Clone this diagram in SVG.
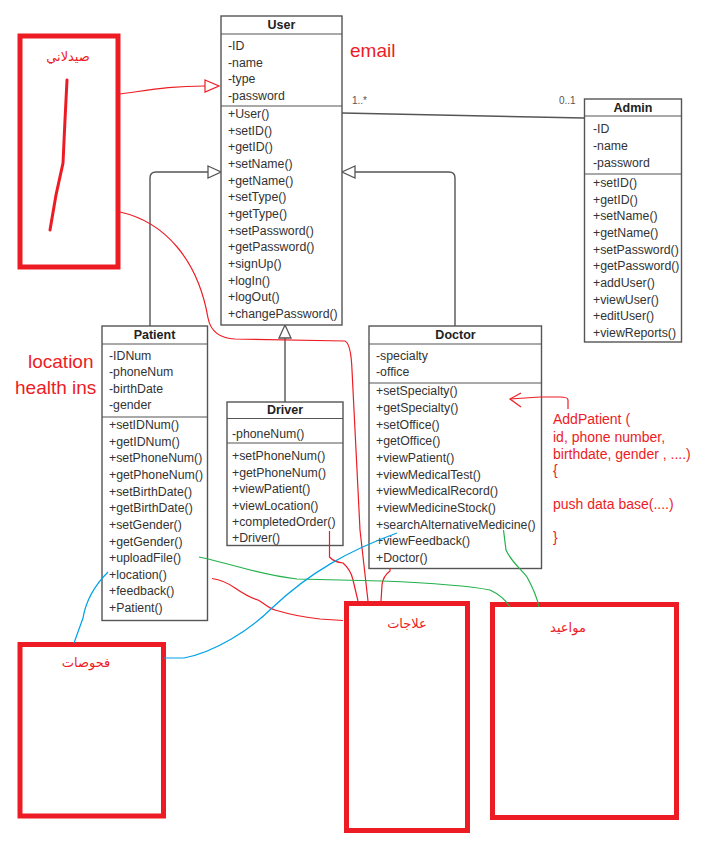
<svg xmlns="http://www.w3.org/2000/svg" width="717" height="841" viewBox="0 0 717 841">
<defs>
<style>
.box{fill:#fff;stroke:#555;stroke-width:1.4}
.sep{stroke:#555;stroke-width:1.2}
.t{font-family:"Liberation Sans",Arial,sans-serif;font-size:12.3px;fill:#333}
.h{font-family:"Liberation Sans",Arial,sans-serif;font-size:12.5px;font-weight:bold;fill:#222;text-anchor:middle}
.m{font-family:"Liberation Sans",Arial,sans-serif;font-size:10px;fill:#555}
.rt{font-family:"Liberation Sans",Arial,sans-serif;font-size:19px;fill:#ED1C24}
.code{font-family:"Liberation Sans",Arial,sans-serif;font-size:14px;fill:#ED1C24}
.ar{font-family:"DejaVu Sans","Noto Sans",sans-serif;font-size:13px;fill:#ED1C24;text-anchor:middle}
.rbox{fill:none;stroke:#ED1C24;stroke-width:5}
.gen{fill:none;stroke:#555;stroke-width:1.4}
.tri{fill:#fff;stroke:#555;stroke-width:1.3}
.red{fill:none;stroke:#ED1C24;stroke-width:1.2}
.grn{fill:none;stroke:#22B14C;stroke-width:1.2}
.blu{fill:none;stroke:#00A2E8;stroke-width:1.2}
</style>
</defs>
<rect width="717" height="841" fill="#fff"/>

<g id="connectors">
<path class="gen" d="M150,326 L150,178 Q150,172 156,172 L208,172"/>
<polygon class="tri" points="208,166 221,172 208,178"/>
<path class="gen" d="M455,326 L455,178 Q455,172 449,172 L355,172"/>
<polygon class="tri" points="355,166 342,172 355,178"/>
<path class="gen" d="M285,402 L285,338"/>
<polygon class="tri" points="279,338 285,325 291,338"/>
<path class="gen" d="M342,113 L584,118"/>
<text class="m" x="352" y="104">1..*</text>
<text class="m" x="559" y="104">0..1</text>
</g>

<g id="User">
<rect class="box" x="221" y="16" width="121" height="309"/>
<line class="sep" x1="221" y1="34" x2="342" y2="34"/>
<line class="sep" x1="221" y1="106" x2="342" y2="106"/>
<text class="h" x="281.5" y="28.5">User</text>
<text class="t" x="228" y="50">-ID</text>
<text class="t" x="228" y="66.7">-name</text>
<text class="t" x="228" y="83.3">-type</text>
<text class="t" x="228" y="100">-password</text>
<text class="t" x="228" y="118">+User()</text>
<text class="t" x="228" y="134.7">+setID()</text>
<text class="t" x="228" y="151.3">+getID()</text>
<text class="t" x="228" y="168">+setName()</text>
<text class="t" x="228" y="184.6">+getName()</text>
<text class="t" x="228" y="201.3">+setType()</text>
<text class="t" x="228" y="217.9">+getType()</text>
<text class="t" x="228" y="234.6">+setPassword()</text>
<text class="t" x="228" y="251.2">+getPassword()</text>
<text class="t" x="228" y="267.9">+signUp()</text>
<text class="t" x="228" y="284.5">+logIn()</text>
<text class="t" x="228" y="301.2">+logOut()</text>
<text class="t" x="228" y="317.8">+changePassword()</text>
</g>

<g id="Admin">
<rect class="box" x="584.5" y="99" width="97" height="243"/>
<line class="sep" x1="584.5" y1="116" x2="681.5" y2="116"/>
<line class="sep" x1="584.5" y1="174" x2="681.5" y2="174"/>
<text class="h" x="633" y="112">Admin</text>
<text class="t" x="593" y="133">-ID</text>
<text class="t" x="593" y="150">-name</text>
<text class="t" x="593" y="167">-password</text>
<text class="t" x="593" y="187">+setID()</text>
<text class="t" x="593" y="203.6">+getID()</text>
<text class="t" x="593" y="220.3">+setName()</text>
<text class="t" x="593" y="237">+getName()</text>
<text class="t" x="593" y="253.6">+setPassword()</text>
<text class="t" x="593" y="270.3">+getPassword()</text>
<text class="t" x="593" y="287">+addUser()</text>
<text class="t" x="593" y="303.6">+viewUser()</text>
<text class="t" x="593" y="320.3">+editUser()</text>
<text class="t" x="593" y="337">+viewReports()</text>
</g>

<g id="Patient">
<rect class="box" x="102" y="326" width="105.5" height="294.5"/>
<line class="sep" x1="102" y1="344" x2="207.5" y2="344"/>
<line class="sep" x1="102" y1="417" x2="207.5" y2="417"/>
<text class="h" x="154.5" y="338.5">Patient</text>
<text class="t" x="109" y="359.5">-IDNum</text>
<text class="t" x="109" y="376">-phoneNum</text>
<text class="t" x="109" y="392.7">-birthDate</text>
<text class="t" x="109" y="409.3">-gender</text>
<text class="t" x="109" y="429">+setIDNum()</text>
<text class="t" x="109" y="445.6">+getIDNum()</text>
<text class="t" x="109" y="462.3">+setPhoneNum()</text>
<text class="t" x="109" y="478.9">+getPhoneNum()</text>
<text class="t" x="109" y="495.6">+setBirthDate()</text>
<text class="t" x="109" y="512.2">+getBirthDate()</text>
<text class="t" x="109" y="528.8">+setGender()</text>
<text class="t" x="109" y="545.5">+getGender()</text>
<text class="t" x="109" y="562.1">+uploadFile()</text>
<text class="t" x="109" y="578.8">+location()</text>
<text class="t" x="109" y="595.4">+feedback()</text>
<text class="t" x="109" y="612">+Patient()</text>
</g>

<g id="Doctor">
<rect class="box" x="369" y="326" width="172.5" height="242.5"/>
<line class="sep" x1="369" y1="344" x2="541.5" y2="344"/>
<line class="sep" x1="369" y1="383" x2="541.5" y2="383"/>
<text class="h" x="455.5" y="338.5">Doctor</text>
<text class="t" x="376" y="359.5">-specialty</text>
<text class="t" x="376" y="376">-office</text>
<text class="t" x="376" y="395.3">+setSpecialty()</text>
<text class="t" x="376" y="412">+getSpecialty()</text>
<text class="t" x="376" y="428.7">+setOffice()</text>
<text class="t" x="376" y="445.3">+getOffice()</text>
<text class="t" x="376" y="462">+viewPatient()</text>
<text class="t" x="376" y="478.7">+viewMedicalTest()</text>
<text class="t" x="376" y="495.3">+viewMedicalRecord()</text>
<text class="t" x="376" y="512">+viewMedicineStock()</text>
<text class="t" x="376" y="528.7">+searchAlternativeMedicine()</text>
<text class="t" x="376" y="545.3">+viewFeedback()</text>
<text class="t" x="376" y="562">+Doctor()</text>
</g>

<g id="Driver">
<rect class="box" x="227" y="402" width="116" height="143.5"/>
<line class="sep" x1="227" y1="418.5" x2="343" y2="418.5"/>
<line class="sep" x1="227" y1="443" x2="343" y2="443"/>
<text class="h" x="285" y="414">Driver</text>
<text class="t" x="232" y="437.7">-phoneNum()</text>
<text class="t" x="232" y="460">+setPhoneNum()</text>
<text class="t" x="232" y="476.5">+getPhoneNum()</text>
<text class="t" x="232" y="493">+viewPatient()</text>
<text class="t" x="232" y="509.5">+viewLocation()</text>
<text class="t" x="232" y="526">+completedOrder()</text>
<text class="t" x="232" y="542">+Driver()</text>
</g>

<g id="annotations">
<text class="rt" x="350" y="56.5">email</text>
<text class="rt" x="28" y="368">location</text>
<text class="rt" x="15" y="394">health ins</text>
<text class="code" x="553" y="424">AddPatient (</text>
<text class="code" x="553" y="441.5">id, phone number,</text>
<text class="code" x="553" y="458.5">birthdate, gender , ....)</text>
<text class="code" x="553" y="475">{</text>
<text class="code" x="553" y="509">push data base(....)</text>
<text class="code" x="553" y="542">}</text>
<path class="red" d="M568,409 L568,400 Q568,397 560,397 L540,397 L510,399"/>
<path class="red" d="M521,393 L510,399 L521,407"/>
</g>

<g id="pharmacist">
<rect class="rbox" x="20" y="36" width="98" height="231"/>
<text class="ar" x="68" y="61" font-size="15">صيدلاني</text>
<path d="M67,80 L65,120 L63,163 L56,195 L50,230" fill="none" stroke="#ED1C24" stroke-width="3" stroke-linecap="round"/>
</g>

<g id="tests">
<rect class="rbox" x="20" y="644.5" width="143.5" height="171.5"/>
<text class="ar" x="86" y="667">فحوصات</text>
</g>

<g id="treatments">
<rect class="rbox" x="346.5" y="603.5" width="121" height="227"/>
<text class="ar" x="407" y="628">علاجات</text>
</g>

<g id="appointments">
<rect class="rbox" x="492.5" y="604.5" width="184" height="213"/>
<text class="ar" x="568" y="632">مواعيد</text>
</g>

<g id="freehand">
<path class="red" d="M120,94 C150,90 170,86 205,86"/>
<polygon points="205,80 219,86 205,92" fill="#fff" stroke="#ED1C24" stroke-width="1.2"/>
<path class="red" d="M120,212 C165,222 198,260 208,318 Q212,338 235,339 L345,341 Q351,344 352,370 L360,530 L368,601"/>
<path class="red" d="M329.5,531 L329.5,557 Q334,562 343,563 Q351,570 353,580 L358,601"/>
<path class="red" d="M390,568 L390,571 Q383,576 382,585 L381,601"/>
<path class="red" d="M212,578.5 C222,580 228,583 235,588 Q248,597 258,600 C265,604 268,608 275,610 C295,616 310,618 320,619 L343,620.5"/>
<path class="grn" d="M199,557 C240,566 260,575 297,579 L382,581 C430,583 465,585 490,590 Q503,596 510,607"/>
<path class="grn" d="M503.5,530 L506,550 C512,563 522,570 527,577 C533,588 537,597 539,607"/>
<path class="blu" d="M108,572 C95,585 86,600 83,618 L74,643"/>
<path class="blu" d="M164,658 L184,658 C215,652 250,630 272,608 C310,572 350,550 397,533"/>
</g>
</svg>
